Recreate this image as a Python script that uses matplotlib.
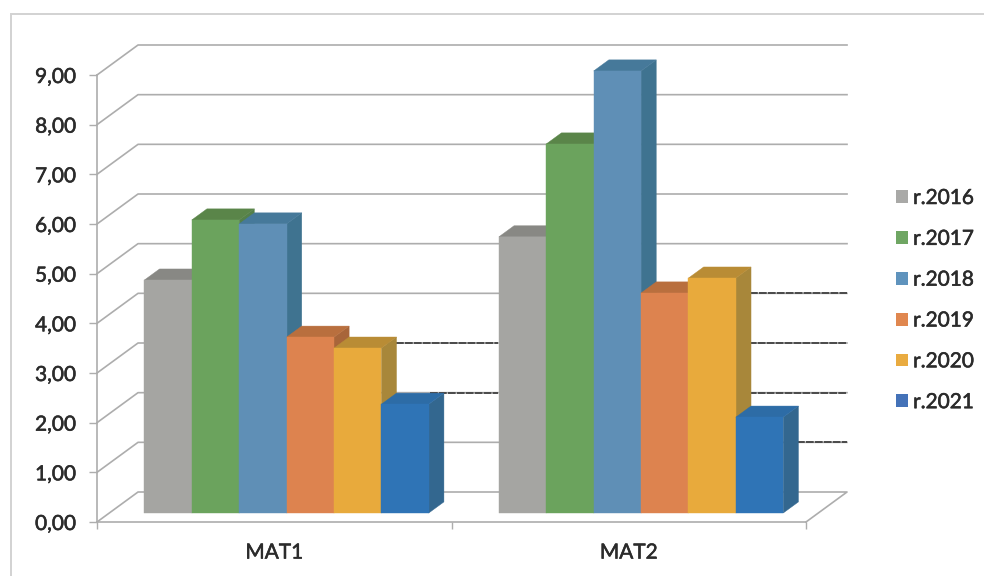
#!/usr/bin/env python3
"""Pseudo-3D clustered columns, MAT1 / MAT2 by year."""

import matplotlib

matplotlib.use("Agg")
import matplotlib.patheffects as pe
import matplotlib.pyplot as plt
from matplotlib.patches import Patch, Polygon, Rectangle

plt.rcParams["font.family"] = ["Lato", "DejaVu Sans"]

categories = ["MAT1", "MAT2"]
years = ["r.2016", "r.2017", "r.2018", "r.2019", "r.2020", "r.2021"]
values = [
    [4.69, 5.56],
    [5.90, 7.43],
    [5.82, 8.90],
    [3.54, 4.43],
    [3.32, 4.73],
    [2.19, 1.93],
]
y_ticks = [0, 1, 2, 3, 4, 5, 6, 7, 8, 9]
y_labels = ["0,00", "1,00", "2,00", "3,00", "4,00", "5,00", "6,00", "7,00", "8,00", "9,00"]

face_colors = ["#a5a5a2", "#6ba35d", "#5f8fb6", "#dd834f", "#e8aa3c", "#2f74b6"]
top_colors = ["#888884", "#5a8549", "#46799a", "#b96f3e", "#b98c35", "#2d6ca6"]
side_colors = ["#8f8f8b", "#54804a", "#3f7390", "#a8653a", "#a8873a", "#33678f"]
legend_colors = ["#a9a9a7", "#6fa663", "#5f93bd", "#e0874f", "#e9ab40", "#4472b8"]

GRID = "#adadad"
DARK = "#4a4a4a"
TEXT = "#2b2b2b"

# depth of the fake floor, in data units
DEPTH_X = 0.1157
DEPTH_Y = 0.604
BAR_D0 = 0.3
BAR_D1 = 0.67
BAR_W = 0.1337

# stretches of gridline that came out dark on the scan: value, x from, x to
dark_lines = [
    (4, 1.842, 2.116),
    (3, 0.843, 1.131),
    (3, 1.763, 2.116),
    (2, 0.939, 1.131),
    (2, 1.763, 2.116),
    (1, 1.975, 2.116),
]


def project(x, y, d):
    return x + d * DEPTH_X, y + d * DEPTH_Y


def draw_bar(ax, x, h, w, face, top, side):
    front = [project(x, 0, BAR_D0), project(x + w, 0, BAR_D0),
             project(x + w, h, BAR_D0), project(x, h, BAR_D0)]
    right = [project(x + w, 0, BAR_D0), project(x + w, 0, BAR_D1),
             project(x + w, h, BAR_D1), project(x + w, h, BAR_D0)]
    lid = [project(x, h, BAR_D0), project(x + w, h, BAR_D0),
           project(x + w, h, BAR_D1), project(x, h, BAR_D1)]
    for pts, col in ((right, side), (lid, top), (front, face)):
        ax.add_patch(Polygon(pts, closed=True, facecolor=col, edgecolor=col,
                             lw=0.3, clip_on=False, zorder=3))


fig = plt.figure(figsize=(9.84, 5.76), dpi=100)
W, H = 984, 576
ax = fig.add_axes([97 / W, (H - 522) / H, 709 / W, 447 / H])
ax.set_xlim(0, 2)
ax.set_ylim(0, 9)
ax.patch.set_alpha(0)

# outer chart frame, only its left and top edges are on the page
fig.add_artist(Rectangle((11 / W, -0.05), 1.1, 1.05 - 14 / H, transform=fig.transFigure,
                         fill=False, edgecolor="#d2d2d2", lw=1.4))

# back wall gridlines and their run down the side wall
for v in y_ticks:
    x0, y0 = project(0, v, 0)
    x1, y1 = project(0, v, 1)
    x2, y2 = project(2, v, 1)
    if v == 0:
        x3, y3 = project(2, v, 0)
        ax.plot([x0, x1, x2, x3], [y0, y1, y2, y3], color=GRID, lw=1.2, clip_on=False, zorder=1)
    else:
        ax.plot([x0, x1, x2], [y0, y1, y2], color=GRID, lw=1.2, clip_on=False, zorder=1)

for v, a, b in dark_lines:
    _, y = project(0, v, 1)
    ax.plot([a, b], [y, y], color=DARK, lw=1.4, ls=(0, (4, 0.6)), clip_on=False, zorder=2)

n = len(years)
for c in range(len(categories)):
    left = c + (1 - n * BAR_W) / 2
    for i in range(n):
        draw_bar(ax, left + i * BAR_W, values[i][c], BAR_W,
                 face_colors[i], top_colors[i], side_colors[i])

for s in ("top", "right"):
    ax.spines[s].set_visible(False)
for s in ("left", "bottom"):
    ax.spines[s].set_color(GRID)
    ax.spines[s].set_linewidth(1.2)
    ax.spines[s].set_zorder(1)

ax.set_yticks(y_ticks)
ax.set_yticklabels(y_labels, fontsize=15, color=TEXT)
ax.tick_params(axis="y", length=6, width=1.0, color=GRID, pad=9)
ax.set_xticks([0, 1, 2])
ax.set_xticklabels([])
ax.tick_params(axis="x", which="major", length=5, width=1.0, color=GRID)
ax.set_xticks([0.5, 1.5], minor=True)
ax.set_xticklabels(categories, minor=True, fontsize=15, color=TEXT)
ax.tick_params(axis="x", which="minor", length=0, pad=14.8)

handles = [Patch(facecolor=c, edgecolor="none", label=y) for y, c in zip(years, legend_colors)]
leg = fig.legend(handles=handles, loc="upper left", bbox_to_anchor=(896 / W, (H - 188) / H),
                 frameon=False, fontsize=15, labelcolor=TEXT, handlelength=0.58, handleheight=0.58,
                 handletextpad=0.24, labelspacing=1.0, borderpad=0, borderaxespad=0)

# the scan thickens the type a little
thicker = [pe.withStroke(linewidth=0.4, foreground=TEXT)]
for t in ax.get_yticklabels() + ax.get_xticklabels(minor=True) + leg.get_texts():
    t.set_path_effects(thicker)

fig.savefig("out.png", dpi=100)
